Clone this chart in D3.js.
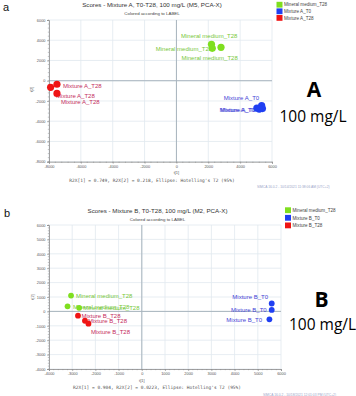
<!DOCTYPE html>
<html><head><meta charset="utf-8">
<script src="https://cdn.jsdelivr.net/npm/d3@7"></script>
<style>
html,body{margin:0;padding:0;background:#fff;}
svg{display:block;}
text{font-family:"Liberation Sans","DejaVu Sans",sans-serif;}
</style></head>
<body>
<script>
// ---------- DATA ----------
const seriesA = ["Mineral medium_T28", "Mixture A_T0", "Mixture A_T28"];
const seriesB = ["Mineral medium_T28", "Mixture B_T0", "Mixture B_T28"];

// Panel a: scores t[1], t[2]
const aMineralT1 = [2200, 2250, 2800];
const aMineralT2 = [3600, 3200, 3300];
const aMixT0T1 = [5350, 5050, 5400, 5200];
const aMixT0T2 = [-2450, -2700, -2750, -2800];
const aMixT28T1 = [-7500, -7900, -7500];
const aMixT28T2 = [-350, -650, -1250];

// Panel b
const bMineralT1 = [-3050, -3200, -2700];
const bMineralT2 = [1100, 350, 250];
const bMixT0T1 = [5600, 5600, 5500];
const bMixT0T2 = [550, 100, -550];
const bMixT28T1 = [-2750, -2450, -2300];
const bMixT28T2 = [-300, -650, -850];

const aXTicks = [-8000, -6000, -4000, -2000, 0, 2000, 4000, 6000];
const aYTicks = [-8000, -6000, -4000, -2000, 0, 2000, 4000, 6000];
const bXTicks = [-4000, -3000, -2000, -1000, 0, 1000, 2000, 3000, 4000, 5000, 6000];
const bYTicks = [-4000, -3000, -2000, -1000, 0, 1000, 2000, 3000, 4000, 5000, 6000];

const titleA = "Scores - Mixture A, T0-T28, 100 mg/L (M5, PCA-X)";
const titleB = "Scores - Mixture B, T0-T28, 100 mg/L (M2, PCA-X)";
const subtitle = "Colored according to LABEL";
const footA = "R2X[1] = 0.749, R2X[2] = 0.218, Ellipse: Hotelling's T2 (95%)";
const footB = "R2X[1] = 0.904, R2X[2] = 0.0223, Ellipse: Hotelling's T2 (95%)";
const stampA = "SIMCA 16.0.2 - 10/14/2021 11:38:06 AM (UTC+2)";
const stampB = "SIMCA 16.0.2 - 10/18/2021 12:01:03 PM (UTC+2)";

// ---------- STYLE ----------
const pointColors = ["#7fdf1f", "#1f3ff2", "#ef1414"];
const labelColors = ["#78c83a", "#4444d6", "#c42c5c"];

const svg = d3.select("body").append("svg").attr("width", 356).attr("height", 396);
const fmt = d => String(d);

function drawPanel(cfg) {
  const g = svg.append("g");
  const x = d3.scaleLinear().domain(cfg.xDomain).range(cfg.xRange);
  const y = d3.scaleLinear().domain(cfg.yDomain).range(cfg.yRange);

  // grid
  g.append("g").selectAll("line.gx").data(cfg.xTicks).join("line")
    .attr("x1", d => x(d)).attr("x2", d => x(d))
    .attr("y1", cfg.yRange[0]).attr("y2", cfg.yRange[1])
    .attr("stroke", "#e1e8ef").attr("stroke-width", 0.8);
  g.append("g").selectAll("line.gy").data(cfg.yTicks).join("line")
    .attr("y1", d => y(d)).attr("y2", d => y(d))
    .attr("x1", cfg.xRange[0]).attr("x2", cfg.xRange[1])
    .attr("stroke", "#e1e8ef").attr("stroke-width", 0.8);

  // zero lines
  g.append("line").attr("x1", x(0)).attr("x2", x(0))
    .attr("y1", cfg.yRange[0]).attr("y2", cfg.yRange[1])
    .attr("stroke", "#a8b4be").attr("stroke-width", 1);
  g.append("line").attr("y1", y(0)).attr("y2", y(0))
    .attr("x1", cfg.xRange[0]).attr("x2", cfg.xRange[1])
    .attr("stroke", "#a8b4be").attr("stroke-width", 1);

  // axes
  const minorX = d3.range(cfg.xDomain[0], cfg.xDomain[1] + 1, cfg.minor);
  const minorY = d3.range(cfg.yDomain[0], cfg.yDomain[1] + 1, cfg.minor);
  const xAxis = d3.axisBottom(x).tickValues(cfg.xTicks).tickFormat(fmt).tickSize(2).tickPadding(1.5);
  const yAxis = d3.axisLeft(y).tickValues(cfg.yTicks).tickFormat(fmt).tickSize(2).tickPadding(1.5);
  const xa = g.append("g").attr("transform", `translate(0,${cfg.yRange[0]})`).call(xAxis);
  const ya = g.append("g").attr("transform", `translate(${cfg.xRange[0]},0)`).call(yAxis);
  [xa, ya].forEach(a => {
    a.select(".domain").attr("stroke", "#8c8c8c").attr("stroke-width", 0.8);
    a.selectAll(".tick line").attr("stroke", "#8c8c8c").attr("stroke-width", 0.6);
    a.selectAll(".tick text").attr("fill", "#555").style("font-size", "3.9px")
      .style("font-family", "Liberation Sans, sans-serif");
  });
  xa.append("g").selectAll("line").data(minorX).join("line")
    .attr("x1", d => x(d)).attr("x2", d => x(d)).attr("y1", 0).attr("y2", 1.2)
    .attr("stroke", "#8c8c8c").attr("stroke-width", 0.5);
  ya.append("g").selectAll("line").data(minorY).join("line")
    .attr("y1", d => y(d)).attr("y2", d => y(d)).attr("x1", 0).attr("x2", -1.2)
    .attr("stroke", "#8c8c8c").attr("stroke-width", 0.5);

  // axis titles
  const xMid = x(0);
  g.append("text").attr("x", xMid).attr("y", cfg.xTitleY).attr("text-anchor", "middle")
    .attr("fill", "#555").style("font-size", "3.9px").text("t[1]");
  g.append("text").attr("transform", `translate(${cfg.yTitleX},${cfg.yTitleY}) rotate(-90)`)
    .attr("text-anchor", "middle").attr("fill", "#555").style("font-size", "3.9px").text("t[2]");

  // labels (under points)
  cfg.series.forEach((s, si) => {
    s.t1.forEach((v, i) => {
      const off = cfg.labelOffsets[si][i];
      if (!off) return;
      g.append("text").attr("x", x(v) + off[0]).attr("y", y(s.t2[i]) + off[1])
        .attr("text-anchor", off[2] || "start")
        .attr("fill", labelColors[si]).style("font-size", cfg.labelSize + "px")
        .text(cfg.names[si]);
    });
  });
  // points
  cfg.series.forEach((s, si) => {
    g.append("g").selectAll("circle").data(s.t1).join("circle")
      .attr("cx", d => x(d)).attr("cy", (d, i) => y(s.t2[i]))
      .attr("r", cfg.r).attr("fill", pointColors[si]);
  });

  // title
  g.append("text").attr("x", cfg.titleX).attr("y", cfg.titleY).attr("text-anchor", "middle")
    .attr("fill", "#333").style("font-size", "6.2px").text(cfg.title);
  g.append("text").attr("x", cfg.titleX).attr("y", cfg.titleY + 8).attr("text-anchor", "middle")
    .attr("fill", "#444").style("font-size", "4.4px").text(subtitle);

  // legend
  cfg.names.forEach((n, i) => {
    g.append("rect").attr("x", cfg.legX).attr("y", cfg.legY + i * cfg.legStep)
      .attr("width", 6).attr("height", 5.8).attr("fill", pointColors[i]);
    g.append("text").attr("x", cfg.legX + 7.5).attr("y", cfg.legY + i * cfg.legStep + 4.6)
      .attr("fill", "#444").style("font-size", "4.6px").text(n);
  });

  // footer
  g.append("text").attr("x", cfg.footX).attr("y", cfg.footY).attr("text-anchor", "middle")
    .attr("fill", "#555").style("font-size", "4.5px").style("font-family", "DejaVu Sans Mono, monospace")
    .text(cfg.foot);
  g.append("text").attr("x", cfg.stampX).attr("y", cfg.stampY)
    .attr("fill", "#9aa4c8").style("font-size", "3.3px").text(cfg.stamp);

  // panel letters
  g.append("text").attr("x", cfg.letterX).attr("y", cfg.letterY)
    .attr("fill", "#111").style("font-size", "11px").style("font-family", "Liberation Sans, sans-serif")
    .text(cfg.letter);
  g.append("text").attr("x", cfg.bigX).attr("y", cfg.bigY).attr("text-anchor", "middle")
    .attr("fill", "#000").style("font-size", "21px").style("font-weight", "bold")
    .style("font-family", "Open Sans, sans-serif").text(cfg.big);
  g.append("text").attr("x", cfg.concX).attr("y", cfg.concY).attr("text-anchor", "middle")
    .attr("fill", "#000").style("font-size", "15.5px")
    .style("font-family", "Open Sans, sans-serif").text("100 mg/L");
}

drawPanel({
  xDomain: [-8000, 6000], xRange: [49, 272],
  yDomain: [-8000, 6000], yRange: [161.7, 20],
  xTicks: aXTicks, yTicks: aYTicks, minor: 400,
  names: seriesA,
  series: [{t1: aMineralT1, t2: aMineralT2}, {t1: aMixT0T1, t2: aMixT0T2}, {t1: aMixT28T1, t2: aMixT28T2}],
  labelOffsets: [
    [[-30.5, -6.5], [-56.5, 2.2], [-39.6, 12.2]],
    [[-2.5, -5.8, "end"], [-2, 4.2, "end"], [-6.5, 3.7, "end"], null],
    [[6, 3.5], [5.5, 10.2], [4, 10.6]]
  ],
  labelSize: 6, r: 3.6,
  title: titleA, titleX: 152, titleY: 7,
  legX: 276.5, legY: 1.8, legStep: 6.6,
  foot: footA, footX: 152, footY: 182.2,
  stamp: stampA, stampX: 257, stampY: 188,
  xTitleY: 173.5, yTitleX: 32.5, yTitleY: 89.5,
  letter: "a", letterX: 3, letterY: 11,
  big: "A", bigX: 314, bigY: 97, concX: 313, concY: 122
});

drawPanel({
  xDomain: [-4000, 6000], xRange: [49, 281],
  yDomain: [-4000, 6000], yRange: [369, 225],
  xTicks: bXTicks, yTicks: bYTicks, minor: 200,
  names: seriesB,
  series: [{t1: bMineralT1, t2: bMineralT2}, {t1: bMixT0T1, t2: bMixT0T2}, {t1: bMixT28T1, t2: bMixT28T2}],
  labelOffsets: [
    [[5, 2.5], [5.5, 3], [4, 1.8]],
    [[-3.7, -4.7, "end"], [-5, 2.3, "end"], [-7.4, 2.7, "end"]],
    [[3.5, 2.2], [3, 2.2], [2.6, 10.2]]
  ],
  labelSize: 6, r: 2.9,
  title: titleB, titleX: 157.5, titleY: 212.5,
  legX: 285, legY: 207.3, legStep: 7.6,
  foot: footB, footX: 157, footY: 388.8,
  stamp: stampB, stampX: 263, stampY: 395.5,
  xTitleY: 381.5, yTitleX: 33.5, yTitleY: 297,
  letter: "b", letterX: 4, letterY: 217,
  big: "B", bigX: 321.5, bigY: 306.5, concX: 322.5, concY: 330
});
</script>
</body></html>
